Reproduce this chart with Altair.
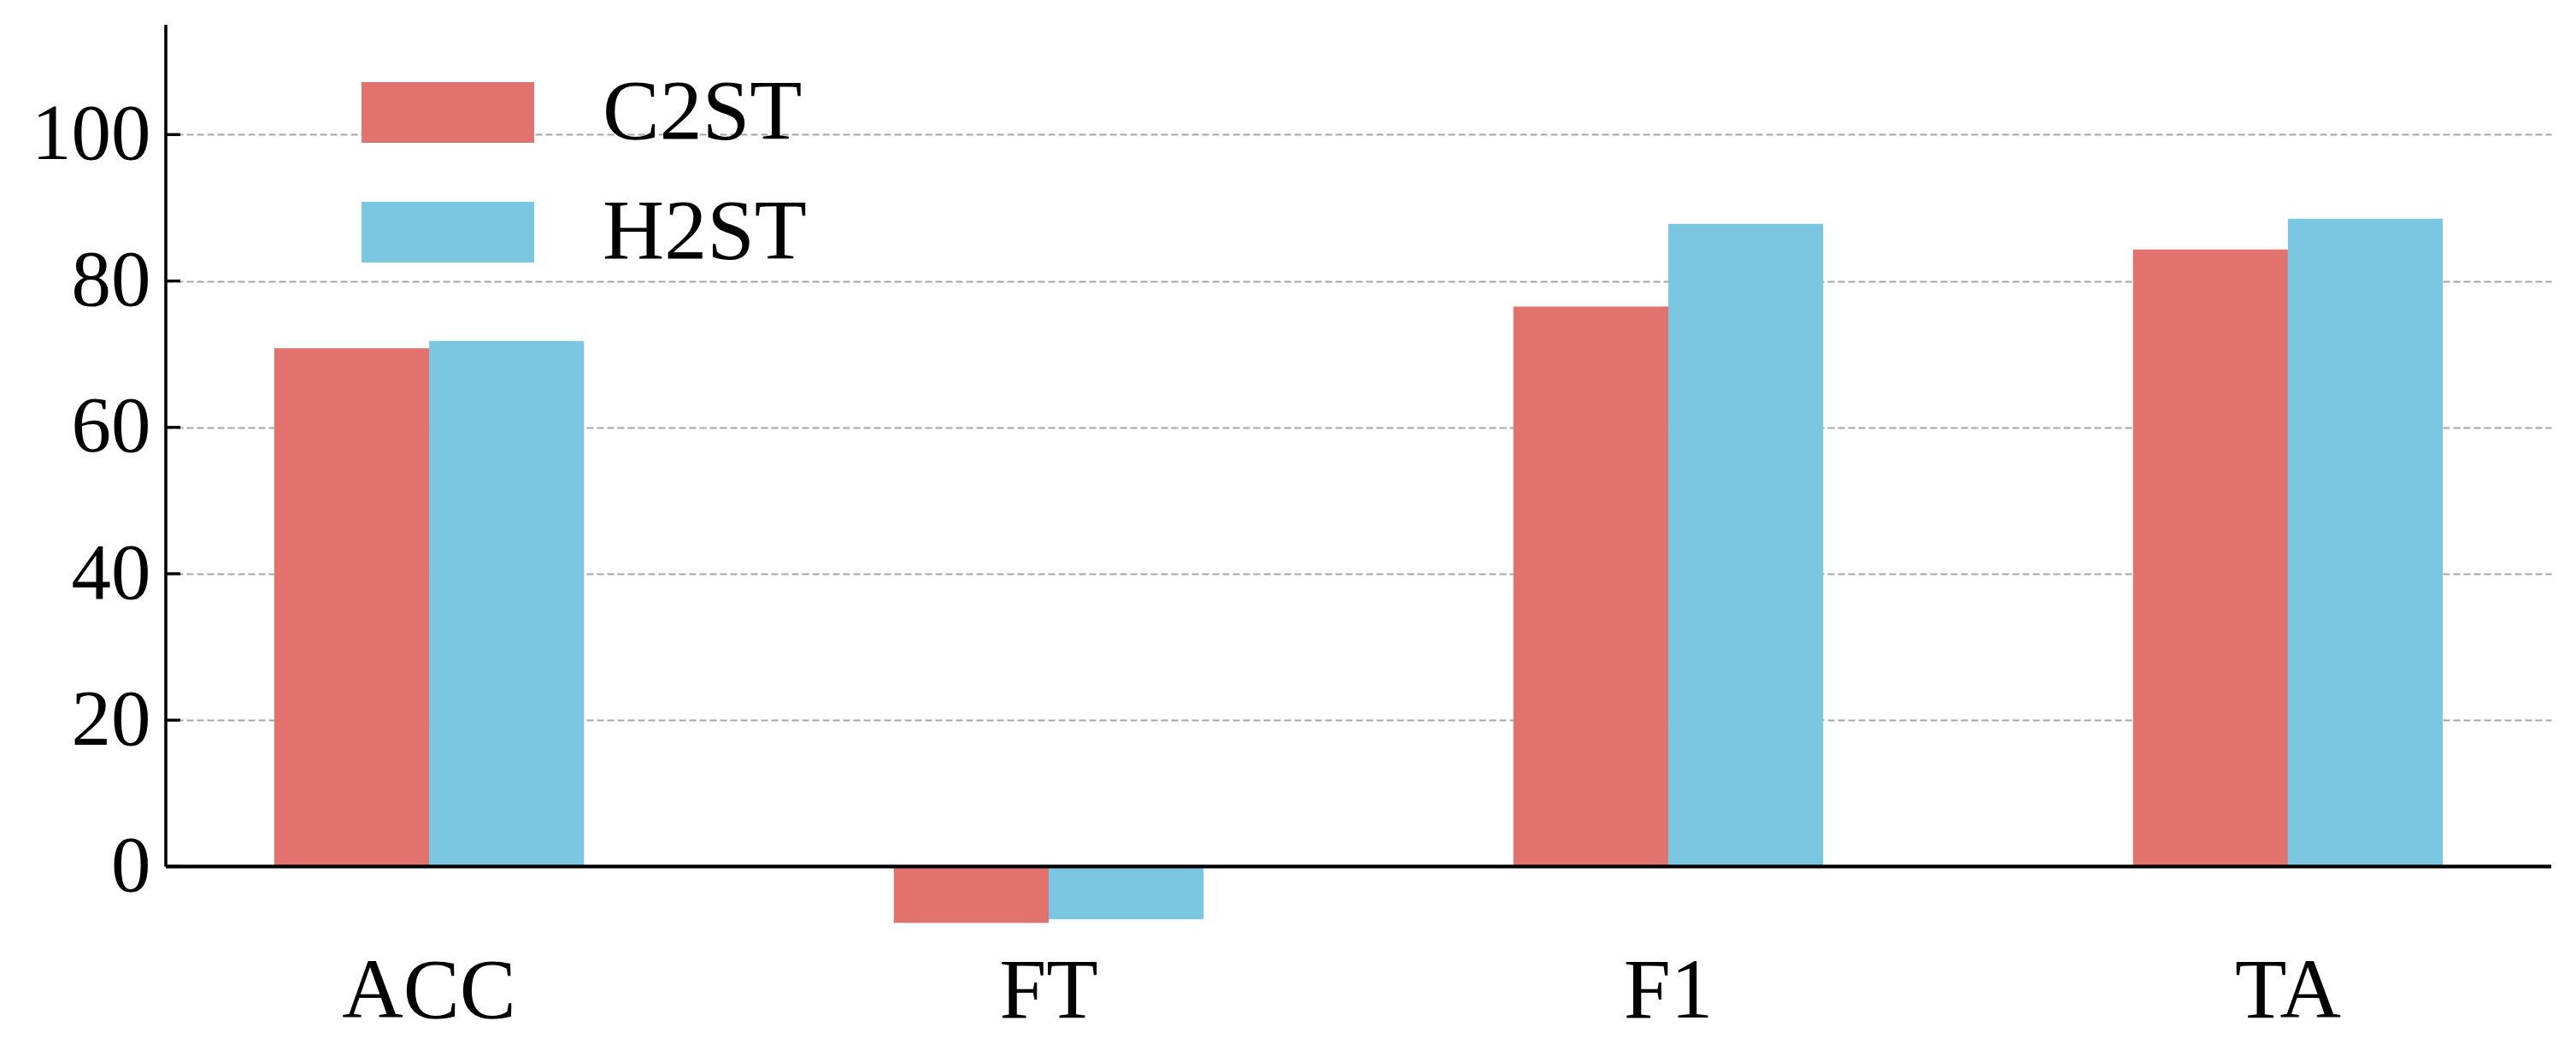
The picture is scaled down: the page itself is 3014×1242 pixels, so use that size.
import altair as alt
import pandas as pd

categories = ["ACC", "FT", "F1", "TA"]
series = ["C2ST", "H2ST"]
c2st = [70.8, -7.7, 76.5, 84.3]
h2st = [71.8, -7.2, 87.8, 88.5]
y_ticks = [0, 20, 40, 60, 80, 100]
colors = ["#E2726E", "#7BC6E0"]

rows = []
for i, c in enumerate(categories):
    rows.append({"metric": c, "method": series[0], "value": c2st[i]})
    rows.append({"metric": c, "method": series[1], "value": h2st[i]})
df = pd.DataFrame(rows)

FONT = "Liberation Serif"
FS = 99
W, H = 2791, 1070
y_scale = alt.Scale(domain=[-10, 115], nice=False, zero=False)
y_axis = alt.Axis(title=None, values=y_ticks, domain=False, ticks=False,
                  grid=True, gridColor="#a6a6a6", gridDash=[8, 4],
                  gridWidth=2.1, labelFontSize=93, labelFont=FONT,
                  labelColor="black", labelPadding=18, labelLimit=0)

bars = alt.Chart(df).mark_bar().encode(
    x=alt.X("metric:N", sort=categories,
            scale=alt.Scale(paddingInner=0.5, paddingOuter=0.175),
            axis=alt.Axis(title=None, labelAngle=0, domain=False, ticks=False,
                          labelFontSize=FS, labelFont=FONT, labelColor="black",
                          labelPadding=12, labelLimit=0)),
    xOffset=alt.XOffset("method:N", sort=series,
                        scale=alt.Scale(paddingInner=0, paddingOuter=0)),
    y=alt.Y("value:Q", scale=y_scale, axis=y_axis),
    color=alt.Color("method:N", sort=series,
                    scale=alt.Scale(domain=series, range=colors),
                    legend=alt.Legend(title=None, orient="none", legendX=279.5, legendY=52,
                                      symbolType="M-2,-0.703H2V0.703H-2Z",
                                      symbolSize=10201, symbolStrokeWidth=0,
                                      symbolOpacity=1, labelFontSize=100,
                                      labelFont=FONT, labelColor="black",
                                      labelOffset=130.5, rowPadding=39, padding=0,
                                      labelLimit=0)),
)

zero = alt.Chart(pd.DataFrame({"y": [0]})).mark_rule(color="black", strokeWidth=4.2).encode(
    y=alt.Y("y:Q", scale=y_scale, axis=y_axis)
)

spine = alt.Chart(pd.DataFrame({"y0": [0], "y1": [115]})).mark_rule(
    color="black", strokeWidth=3.6).encode(
    x=alt.value(0),
    y=alt.Y("y0:Q", scale=y_scale, axis=y_axis),
    y2="y1:Q",
)

ticks = alt.Chart(pd.DataFrame({"t": y_ticks})).mark_rule(
    color="black", strokeWidth=3.4).encode(
    y=alt.Y("t:Q", scale=y_scale, axis=y_axis),
    x=alt.value(0),
    x2=alt.value(17),
)

chart = alt.layer(bars, zero, spine, ticks).properties(
    width=W, height=H,
    autosize=alt.AutoSizeParams(type="none"),
    padding={"left": 186, "top": 21, "right": 20, "bottom": 130},
).configure(background="white").configure_view(strokeWidth=0, stroke="transparent")

chart.save("out.html", embed_options={"renderer": "svg", "actions": False})
